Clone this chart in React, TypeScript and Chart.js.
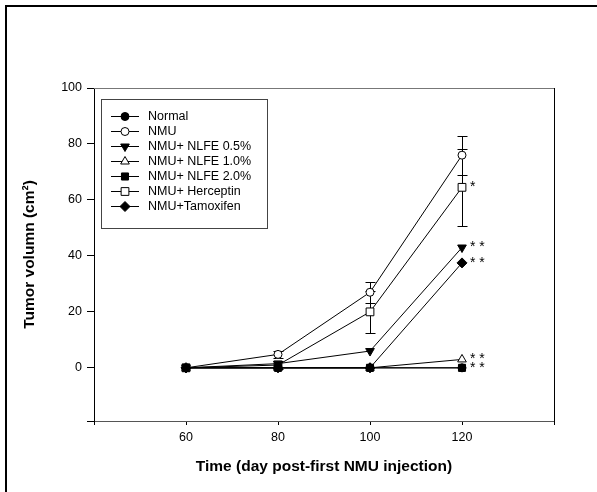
import React, { useEffect, useRef } from 'react';
import { Chart, registerables } from 'chart.js';

Chart.register(...registerables);

// ---- data ----
const days = [60, 80, 100, 120];
const seriesLabels = [
  'Normal',
  'NMU',
  'NMU+ NLFE 0.5%',
  'NMU+ NLFE 1.0%',
  'NMU+ NLFE 2.0%',
  'NMU+ Herceptin',
  'NMU+Tamoxifen',
];
const normalVals = [0, 0, 0, 0];
const nmuVals = [0, 4.8, 27, 76];
const nlfe05Vals = [0, 1.5, 6, 43];
const nlfe10Vals = [0, 0, 0, 3];
const nlfe20Vals = [0, 0, 0, 0];
const herceptinVals = [0, 1, 20, 64.5];
const tamoxifenVals = [0, 0, 0, 37.5];

const nmuErr = [0, 1.2, 3.8, 7];
const herceptinErr = [0, 1.5, 7.6, 13.7];

// significance marks (per series, per day)
const nlfe05Sig = ['', '', '', '**'];
const nlfe10Sig = ['', '', '', '**'];
const nlfe20Sig = ['', '', '', '**'];
const herceptinSig = ['', '', '', '*'];
const tamoxifenSig = ['', '', '', '**'];

const xTicks = [40, 60, 80, 100, 120, 140];
const xTickLabels = [60, 80, 100, 120];
const yTicks = [-19, 0, 20, 40, 60, 80, 100];
const yTickLabels = [0, 20, 40, 60, 80, 100];

const xTitle = 'Time (day post-first NMU injection)';
const yTitle = 'Tumor volumn (cm\u00B2)';

const FONT = 'Arial, "Liberation Sans", sans-serif';
const TICK_SIZE = 12.5;
const TITLE_SIZE = 15.5;

type Marker = { style: string; fill: string; radius: number; rotation?: number };
const markers: Marker[] = [
  { style: 'circle', fill: '#000', radius: 4 },
  { style: 'circle', fill: '#fff', radius: 4 },
  { style: 'triangle', fill: '#000', radius: 5, rotation: 180 },
  { style: 'triangle', fill: '#fff', radius: 5 },
  { style: 'rect', fill: '#000', radius: 5 },
  { style: 'rect', fill: '#fff', radius: 5.5 },
  { style: 'rectRot', fill: '#000', radius: 5 },
];

const seriesValues = [normalVals, nmuVals, nlfe05Vals, nlfe10Vals, nlfe20Vals, herceptinVals, tamoxifenVals];
const seriesErr: (number[] | null)[] = [null, nmuErr, null, null, null, herceptinErr, null];
const seriesSig: (string[] | null)[] = [null, null, nlfe05Sig, nlfe10Sig, nlfe20Sig, herceptinSig, tamoxifenSig];

function drawMarker(ctx: CanvasRenderingContext2D, m: Marker, x: number, y: number) {
  const r = m.radius;
  ctx.save();
  ctx.beginPath();
  if (m.style === 'circle') {
    ctx.arc(x, y, r, 0, Math.PI * 2);
  } else if (m.style === 'triangle') {
    const dir = m.rotation === 180 ? -1 : 1;
    ctx.moveTo(x, y - dir * r);
    ctx.lineTo(x - r * 0.866, y + dir * r * 0.5);
    ctx.lineTo(x + r * 0.866, y + dir * r * 0.5);
    ctx.closePath();
  } else if (m.style === 'rect') {
    const s = Math.SQRT1_2 * r;
    ctx.rect(x - s, y - s, 2 * s, 2 * s);
  } else if (m.style === 'rectRot') {
    ctx.moveTo(x, y - r);
    ctx.lineTo(x + r, y);
    ctx.lineTo(x, y + r);
    ctx.lineTo(x - r, y);
    ctx.closePath();
  }
  ctx.fillStyle = m.fill;
  ctx.fill();
  ctx.lineWidth = 1;
  ctx.strokeStyle = '#000';
  ctx.stroke();
  ctx.restore();
}

const framePlugin = {
  id: 'framePlugin',
  beforeDraw(chart: any) {
    const { ctx, width, height } = chart;
    ctx.save();
    ctx.fillStyle = '#fff';
    ctx.fillRect(0, 0, width, height);
    ctx.fillStyle = '#000';
    ctx.fillRect(5, 5, 2, height);
    ctx.fillRect(5, 5, width, 2);
    ctx.restore();
  },
  afterDraw(chart: any) {
    const { ctx, chartArea } = chart;
    const { left, right, top, bottom } = chartArea;
    ctx.save();
    ctx.lineWidth = 1;
    ctx.strokeStyle = '#777';
    ctx.beginPath();
    ctx.moveTo(left, top + 0.5);
    ctx.lineTo(right, top + 0.5);
    ctx.stroke();
    ctx.strokeStyle = '#000';
    ctx.beginPath();
    ctx.moveTo(right + 0.5, top);
    ctx.lineTo(right + 0.5, bottom + 4);
    ctx.stroke();

    // legend
    const bx = 101.5, by = 99.5, bw = 166, bh = 129;
    ctx.strokeStyle = '#444';
    ctx.strokeRect(bx, by, bw, bh);
    ctx.font = TICK_SIZE + 'px ' + FONT;
    ctx.textBaseline = 'middle';
    ctx.textAlign = 'left';
    ctx.fillStyle = '#000';
    chart.data.datasets.forEach((ds: any, i: number) => {
      const y = 116 + i * 15;
      ctx.strokeStyle = '#000';
      ctx.beginPath();
      ctx.moveTo(111, Math.round(y) + 0.5);
      ctx.lineTo(139, Math.round(y) + 0.5);
      ctx.stroke();
      drawMarker(ctx, markers[i], 125, Math.round(y) + 0.5);
      ctx.fillStyle = '#000';
      ctx.fillText(ds.label, 148, y + 0.5);
    });

    // significance marks
    const xs = chart.scales.x;
    const ys = chart.scales.y;
    ctx.font = '14px ' + FONT;
    ctx.textBaseline = 'middle';
    seriesSig.forEach((sig, i) => {
      if (!sig) return;
      sig.forEach((s, j) => {
        if (!s) return;
        const px = xs.getPixelForValue(days[j]);
        const py = ys.getPixelForValue(seriesValues[i][j]);
        ctx.fillText(s.split('').join(' '), px + 8, py);
      });
    });
    ctx.restore();
  },
  beforeDatasetsDraw(chart: any) {
    const { ctx } = chart;
    const xs = chart.scales.x;
    const ys = chart.scales.y;
    ctx.save();
    ctx.strokeStyle = '#000';
    ctx.lineWidth = 1;
    seriesErr.forEach((err, i) => {
      if (!err) return;
      err.forEach((e, j) => {
        if (!e) return;
        const px = Math.round(xs.getPixelForValue(days[j])) + 0.5;
        const yTop = Math.round(ys.getPixelForValue(seriesValues[i][j] + e)) + 0.5;
        const yBot = Math.round(ys.getPixelForValue(seriesValues[i][j] - e)) + 0.5;
        ctx.beginPath();
        ctx.moveTo(px, yTop);
        ctx.lineTo(px, yBot);
        ctx.moveTo(px - 5, yTop);
        ctx.lineTo(px + 5, yTop);
        ctx.moveTo(px - 5, yBot);
        ctx.lineTo(px + 5, yBot);
        ctx.stroke();
      });
    });
    ctx.restore();
  },
};

export default function App() {
  const ref = useRef<HTMLCanvasElement | null>(null);
  useEffect(() => {
    if (!ref.current) return;
    const datasets = seriesLabels.map((label, i) => ({
      label,
      data: days.map((d, j) => ({ x: d, y: seriesValues[i][j] })),
      borderColor: '#000',
      borderWidth: 1,
      backgroundColor: markers[i].fill,
      pointBackgroundColor: markers[i].fill,
      pointBorderColor: '#000',
      pointBorderWidth: 1,
      pointStyle: markers[i].style,
      pointRadius: markers[i].radius,
      pointRotation: markers[i].rotation || 0,
      showLine: true,
      fill: false,
      tension: 0,
    }));
    const chart = new Chart(ref.current, {
      type: 'scatter',
      data: { datasets } as any,
      plugins: [framePlugin],
      options: {
        animation: false,
        responsive: false,
        maintainAspectRatio: false,
        layout: { padding: { left: 0, top: 88, right: 43, bottom: 0 } },
        plugins: { legend: { display: false }, tooltip: { enabled: false } },
        scales: {
          x: {
            type: 'linear',
            min: 40,
            max: 140,
            afterBuildTicks: (s: any) => {
              s.ticks = xTicks.map((v) => ({ value: v }));
            },
            afterFit: (s: any) => {
              s.height = 492 - 421;
            },
            ticks: {
              autoSkip: false,
              maxRotation: 0,
              color: '#000',
              padding: 5,
              font: { family: FONT, size: TICK_SIZE },
              callback: (v: any) => (xTickLabels.includes(Number(v)) ? String(v) : ''),
            },
            grid: { display: true, drawOnChartArea: false, drawTicks: true, tickLength: 4, color: '#000' },
            border: { display: true, color: '#555' },
            title: {
              display: true,
              text: xTitle,
              color: '#000',
              font: { family: FONT, size: TITLE_SIZE, weight: 'bold' },
              padding: { top: 0, bottom: 16 },
            },
          },
          y: {
            type: 'linear',
            min: -19,
            max: 100,
            afterBuildTicks: (s: any) => {
              s.ticks = yTicks.map((v) => ({ value: v }));
            },
            afterFit: (s: any) => {
              s.width = 94;
            },
            ticks: {
              autoSkip: false,
              color: '#000',
              padding: 5,
              font: { family: FONT, size: TICK_SIZE },
              callback: (v: any) => (yTickLabels.includes(Number(v)) ? String(v) : ''),
            },
            grid: { display: true, drawOnChartArea: false, drawTicks: true, tickLength: 7, color: '#000' },
            border: { display: true, color: '#000' },
            title: {
              display: true,
              text: yTitle,
              color: '#000',
              font: { family: FONT, size: TITLE_SIZE, weight: 'bold' },
              padding: { top: 20, bottom: 0 },
            },
          },
        },
      } as any,
    });
    return () => chart.destroy();
  }, []);
  return (
    <div style={{ position: 'fixed', left: 0, top: 0, width: 597, height: 492, background: '#fff' }}>
      <canvas ref={ref} width={597} height={492} style={{ display: 'block' }} />
    </div>
  );
}
